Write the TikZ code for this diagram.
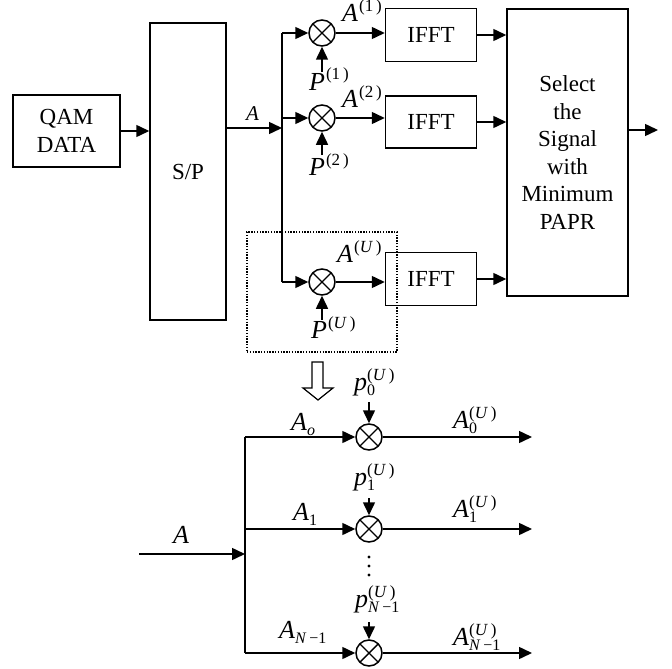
\documentclass[tikz,border=0pt]{standalone}
\usepackage{fontspec}
\setmainfont{Liberation Serif}
\usetikzlibrary{arrows.meta}
\newcommand{\SupP}[1]{\raisebox{10pt}{\fontsize{17}{17}\selectfont(#1\,)}}
\newcommand{\SubP}[1]{\raisebox{-5pt}{\fontsize{16}{16}\selectfont #1}}
\newcommand{\lsup}[2]{\textit{#1}\hspace{1pt}\SupP{#2}}
\newcommand{\lsub}[2]{\textit{#1}\SubP{#2}}
\newcommand{\lsubsupa}[3]{\textit{#1}\rlap{\SubP{#2}}\SupP{#3}}
\newcommand{\lsubsupb}[3]{\textit{#1}\rlap{\SupP{#3}}\SubP{#2}}
\newcommand{\Nmo}{\textit{N}\,\textminus1}
\begin{document}
\begin{tikzpicture}[x=1pt,y=-1pt,
  box/.style={draw, line width=1.5pt, inner sep=0pt, align=center, font=\fontsize{23}{27.6}\selectfont},
  mult/.style={circle, draw, line width=1.5pt, minimum size=26pt, inner sep=0pt,
    path picture={\draw[line width=1.4pt] (path picture bounding box.north west) -- (path picture bounding box.south east)
      (path picture bounding box.north east) -- (path picture bounding box.south west);}},
  conn/.style={line width=1.5pt},
  arr/.style={conn, -{Triangle[length=13pt,width=12pt]}},
  lbl/.style={font=\fontsize{26}{30}\selectfont, inner sep=0pt, anchor=base west},
]
\useasboundingbox (0,0) rectangle (672,669);

% top section
\node[box, minimum width=107pt, minimum height=72pt] (qam) at (66.5,131) {QAM\\DATA};
\node[box, minimum width=76pt, minimum height=297pt] (sp) at (188,171.5) {S/P};
\draw[arr] (qam.east) -- (qam.east -| sp.west);

\coordinate (split) at (282,128);
\draw[arr] (sp.east |- split) -- (split);
\node[lbl, font=\fontsize{21}{24}\selectfont] (la) at (246,120) {\textit{A}};

\node[mult] (m1) at (322,33) {};
\node[mult] (m2) at (322,118) {};
\node[mult] (m3) at (322,282) {};
\coordinate (top) at (282,33);
\coordinate (bot) at (282,282);
\draw[conn] (top) -- (bot);
\draw[arr] (top) -- (m1);
\draw[arr] (m2 -| top) -- (m2);
\draw[arr] (bot) -- (m3);

\coordinate (p1) at (322,72);
\coordinate (p2) at (322,155);
\coordinate (p3) at (322,320);
\draw[arr] (p1) -- (m1);
\draw[arr] (p2) -- (m2);
\draw[arr] (p3) -- (m3);
\node[lbl] (lp1) at (309,90) {\lsup{P}{1}};
\node[lbl] (lp2) at (309,175) {\lsup{P}{2}};
\node[lbl] (lp3) at (311,338) {\lsup{P}{\textit{U}}};

\node[box, minimum width=91pt, minimum height=53pt] (f1) at (431,35) {IFFT};
\node[box, minimum width=91pt, minimum height=52pt] (f2) at (431,122) {IFFT};
\node[box, minimum width=91pt, minimum height=53pt] (f3) at (431,279) {IFFT};
\draw[arr] (m1) -- (m1 -| f1.west);
\draw[arr] (m2) -- (m2 -| f2.west);
\draw[arr] (m3) -- (m3 -| f3.west);
\node[lbl] (la1) at (342,22) {\lsup{A}{1}};
\node[lbl] (la2) at (342,107) {\lsup{A}{2}};
\node[lbl] (la3) at (337,262) {\lsup{A}{\textit{U}}};

\node[box, minimum width=121pt, minimum height=287pt] (sel) at (567.5,152.5)
  {Select\\the\\Signal\\with\\Minimum\\PAPR};
\draw[arr] (f1.east) -- (f1.east -| sel.west);
\draw[arr] (f2.east) -- (f2.east -| sel.west);
\draw[arr] (f3.east) -- (f3.east -| sel.west);
\coordinate (out) at (658,130);
\draw[arr] (sel.east |- out) -- (out);

\node[draw, line width=1.4pt, dash pattern=on 1.4pt off 1.4pt, minimum width=150pt, minimum height=120pt, inner sep=0pt] (grp) at (322,292) {};

% hollow arrow
\draw[line width=1.2pt, fill=white] (312,362) -- (323,362) -- (323,388) -- (333,388) -- (318,400) -- (303,388) -- (312,388) -- cycle;

% bottom section
\coordinate (in) at (139,554);
\coordinate (bj) at (245,554);
\draw[arr] (in) -- (bj);
\node[lbl] (lA) at (173,543) {\textit{A}};
\coordinate (bt) at (245,437);
\coordinate (bb) at (245,653);
\draw[conn] (bt) -- (bb);

\node[mult] (b0) at (369,437) {};
\node[mult] (b1) at (369,529) {};
\node[mult] (b2) at (369,653) {};
\draw[arr] (bt) -- (b0);
\draw[arr] (b1 -| bt) -- (b1);
\draw[arr] (bb) -- (b2);

\coordinate (o0) at (532,437);
\coordinate (o1) at (532,529);
\coordinate (o2) at (532,653);
\draw[arr] (b0) -- (o0);
\draw[arr] (b1) -- (o1);
\draw[arr] (b2) -- (o2);

\node[lbl] (lA0) at (291,430) {\lsub{A}{\textit{o}}};
\node[lbl] (lA1) at (293,520) {\lsub{A}{1}};
\node[lbl] (lA2) at (279,638) {\lsub{A}{\Nmo}};

\node[lbl] (lo0) at (453,428) {\lsubsupa{A}{0}{\textit{U}}};
\node[lbl] (lo1) at (453,517) {\lsubsupa{A}{1}{\textit{U}}};
\node[lbl] (lo2) at (453,645) {\lsubsupb{A}{\Nmo}{\textit{U}}};

\coordinate (q0) at (369,402);
\coordinate (q1) at (369,498);
\coordinate (q2) at (369,622);
\draw[arr] (q0) -- (b0);
\draw[arr] (q1) -- (b1);
\draw[arr] (q2) -- (b2);
\node[lbl] (lq0) at (354,390) {\lsubsupa{p}{0}{\textit{U}}};
\node[lbl] (lq1) at (354,485) {\lsubsupa{p}{1}{\textit{U}}};
\node[lbl] (lq2) at (355,607) {\lsubsupb{p}{\Nmo}{\textit{U}}};

\foreach \yy in {557,566,575} \fill (369,\yy) circle (1.6pt);
\end{tikzpicture}
\end{document}
